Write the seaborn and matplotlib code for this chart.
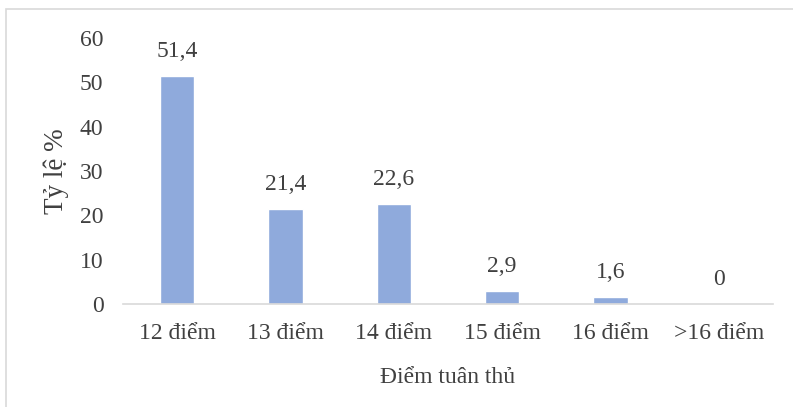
import matplotlib
matplotlib.use("Agg")
import matplotlib.pyplot as plt
from matplotlib.patches import Rectangle
import seaborn as sns
import pandas as pd

categories = ["12 điểm", "13 điểm", "14 điểm", "15 điểm", "16 điểm", ">16 điểm"]
values = [51.4, 21.4, 22.6, 2.9, 1.6, 0]
value_labels = ["51,4", "21,4", "22,6", "2,9", "1,6", "0"]
y_ticks = [0, 10, 20, 30, 40, 50, 60]

sns.set_theme(style="white")
plt.rcParams["font.family"] = ["Liberation Serif", "DejaVu Serif"]

text_color = "#404040"
bar_color = "#8FAADC"
fs = 17

df = pd.DataFrame({"cat": categories, "val": values})

fig = plt.figure(figsize=(7.93, 4.07), dpi=100)
ax = fig.add_axes([123 / 793, 1 - 304 / 407, 650 / 793, 266 / 407])

sns.barplot(data=df, x="cat", y="val", color=bar_color, width=0.314,
            saturation=1, ax=ax)

ax.set_ylim(0, 60)
ax.set_yticks(y_ticks)
ax.set_yticklabels([str(t) for t in y_ticks])
ax.set_xlim(-0.5, len(categories) - 0.5)

for i, (v, lab) in enumerate(zip(values, value_labels)):
    ax.text(i, v + 3.2, lab, ha="center", va="bottom", fontsize=fs,
            color=text_color)

ax.tick_params(axis="both", length=0, labelsize=fs, colors=text_color)
ax.tick_params(axis="x", pad=14)
ax.tick_params(axis="y", pad=14)

for s in ["top", "right", "left"]:
    ax.spines[s].set_visible(False)
ax.spines["bottom"].set_color("#D9D9D9")
ax.spines["bottom"].set_linewidth(1.2)

ax.set_xlabel("Điểm tuân thủ", fontsize=fs, color=text_color, labelpad=16)
ax.set_ylabel("Tỷ lệ %", fontsize=19.5, color=text_color, labelpad=8)

# light frame around the chart area
fig.patches.append(Rectangle((6 / 793, -0.05), 1.1, 1 - 9 / 407 + 0.05,
                             transform=fig.transFigure, fill=False,
                             edgecolor="#D9D9D9", linewidth=1.2))

fig.savefig("out.png", dpi=100)
